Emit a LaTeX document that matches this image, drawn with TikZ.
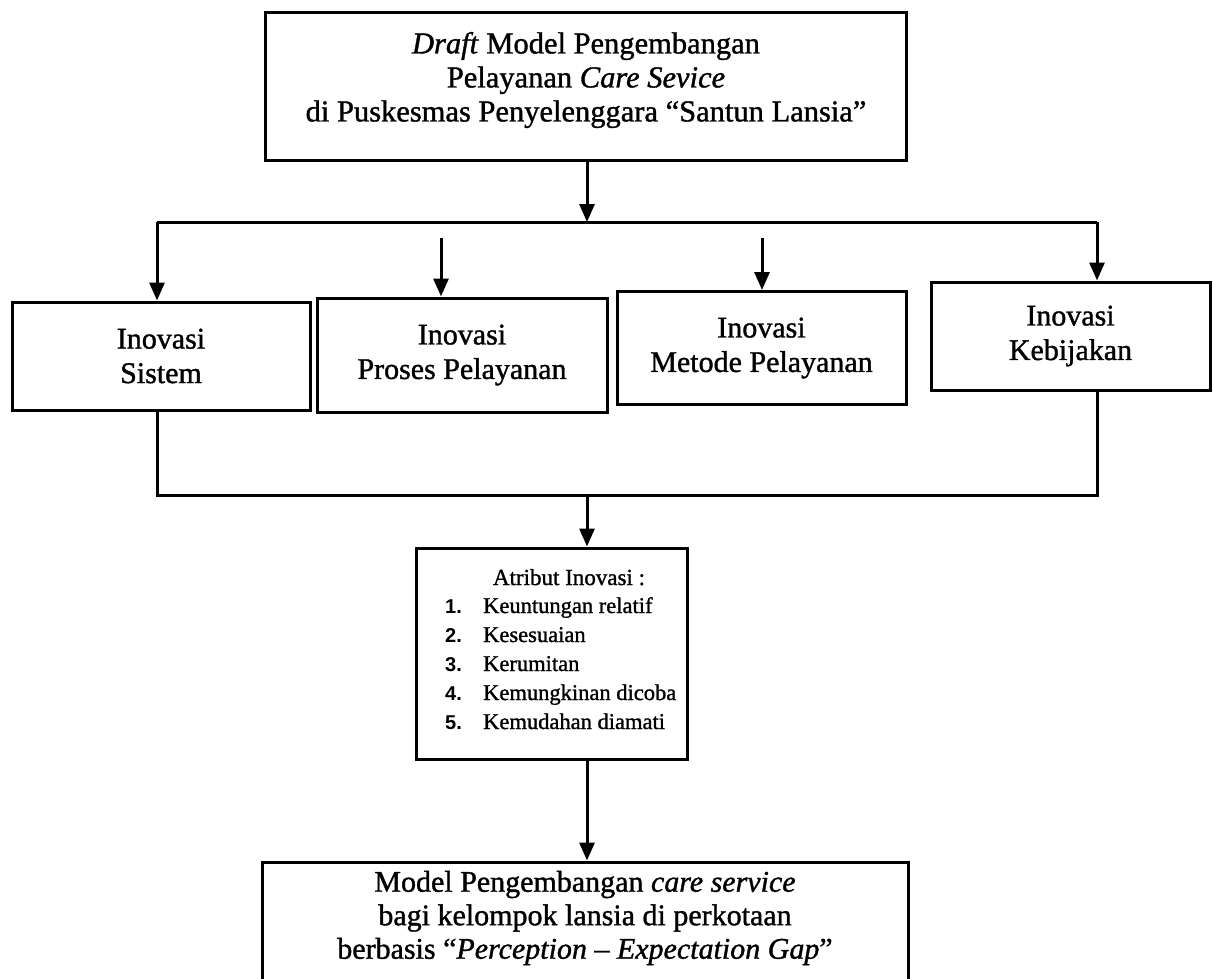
\documentclass[tikz,border=0pt]{standalone}
\usepackage{fontspec}
\setmainfont{Liberation Serif}[UprightFeatures={FakeBold=1.2},ItalicFeatures={FakeBold=1.2}]
\newfontfamily\numfont{Liberation Sans}
\usetikzlibrary{arrows.meta}
\begin{document}
\begin{tikzpicture}[x=1pt,y=-1pt,
  box/.style={draw,line width=3pt,inner sep=0pt},
  link/.style={line width=3pt},
  arr/.style={link,-{Triangle[length=18pt,width=15pt]}},
  txt/.style={align=center,inner sep=0pt,font=\fontsize{30}{34.5}\selectfont},
  item/.style={anchor=base west,inner sep=0pt,font=\fontsize{22.5}{28}\selectfont},
  num/.style={anchor=base west,inner sep=0pt,font=\numfont\bfseries\fontsize{20}{28}\selectfont}]
\clip (0,0) rectangle (1213,978);

% top box
\node[box,minimum width=641pt,minimum height=148pt] (top) at (586,86) {};
\node[txt,font=\fontsize{30.5}{34}\selectfont] (toptxt) at (586,80)
  {\textit{Draft} Model Pengembangan\\ Pelayanan \textit{Care Sevice}\\ di Puskesmas Penyelenggara “Santun Lansia”};

% four innovation boxes
\node[box,txt,minimum width=298pt,minimum height=108pt] (sys)  at (161,356)    {Inovasi\\Sistem};
\node[box,txt,minimum width=290pt,minimum height=114pt] (proc) at (462,355)    {Inovasi\\Proses Pelayanan};
\node[box,txt,minimum width=289pt,minimum height=113pt] (met)  at (761.5,348)  {Inovasi\\Metode Pelayanan};
\node[box,txt,minimum width=279pt,minimum height=108pt] (pol)  at (1070.5,336) {Inovasi\\Kebijakan};

% attribute box
\node[box,minimum width=271pt,minimum height=211pt] (attr) at (551.5,653.5) {};
\node[txt,font=\fontsize{23}{28}\selectfont,anchor=base] (attrh) at (569,585) {Atribut Inovasi :};
\node[num]  (n1) at (445,613) {1.};  \node[item] (i1) at (483,613) {Keuntungan relatif};
\node[num]  (n2) at (445,642) {2.};  \node[item] (i2) at (483,642) {Kesesuaian};
\node[num]  (n3) at (445,671) {3.};  \node[item] (i3) at (483,671) {Kerumitan};
\node[num]  (n4) at (445,700) {4.};  \node[item] (i4) at (483,700) {Kemungkinan dicoba};
\node[num]  (n5) at (445,729) {5.};  \node[item] (i5) at (483,729) {Kemudahan diamati};

% result box
\node[box,minimum width=646pt,minimum height=160pt] (res) at (585,942) {};
\node[txt,font=\fontsize{30}{33.5}\selectfont] (restxt) at (585,918)
  {Model Pengembangan \textit{care service}\\ bagi kelompok lansia di perkotaan\\ berbasis “\textit{Perception – Expectation Gap}”};

% connectors
\coordinate (split) at (587,222);
\coordinate (lft) at (157,222);
\coordinate (rgt) at (1097,222);
\coordinate (p2) at (441,238);
\coordinate (p3) at (762,238);
\coordinate (join) at (587,495);

\draw[arr] (split |- top.south) -- (split);
\draw[link] (lft) -- (rgt);
\draw[arr] (lft) -- (lft |- sys.north);
\draw[arr] (rgt) -- (rgt |- pol.north);
\draw[arr] (p2) -- (p2 |- proc.north);
\draw[arr] (p3) -- (p3 |- met.north);

\draw[link] (lft |- sys.south) -- (lft |- join) -- (rgt |- join) -- (rgt |- pol.south);
\draw[arr] (join) -- (join |- attr.north);
\draw[arr] (join |- attr.south) -- (join |- res.north);
\end{tikzpicture}
\end{document}
